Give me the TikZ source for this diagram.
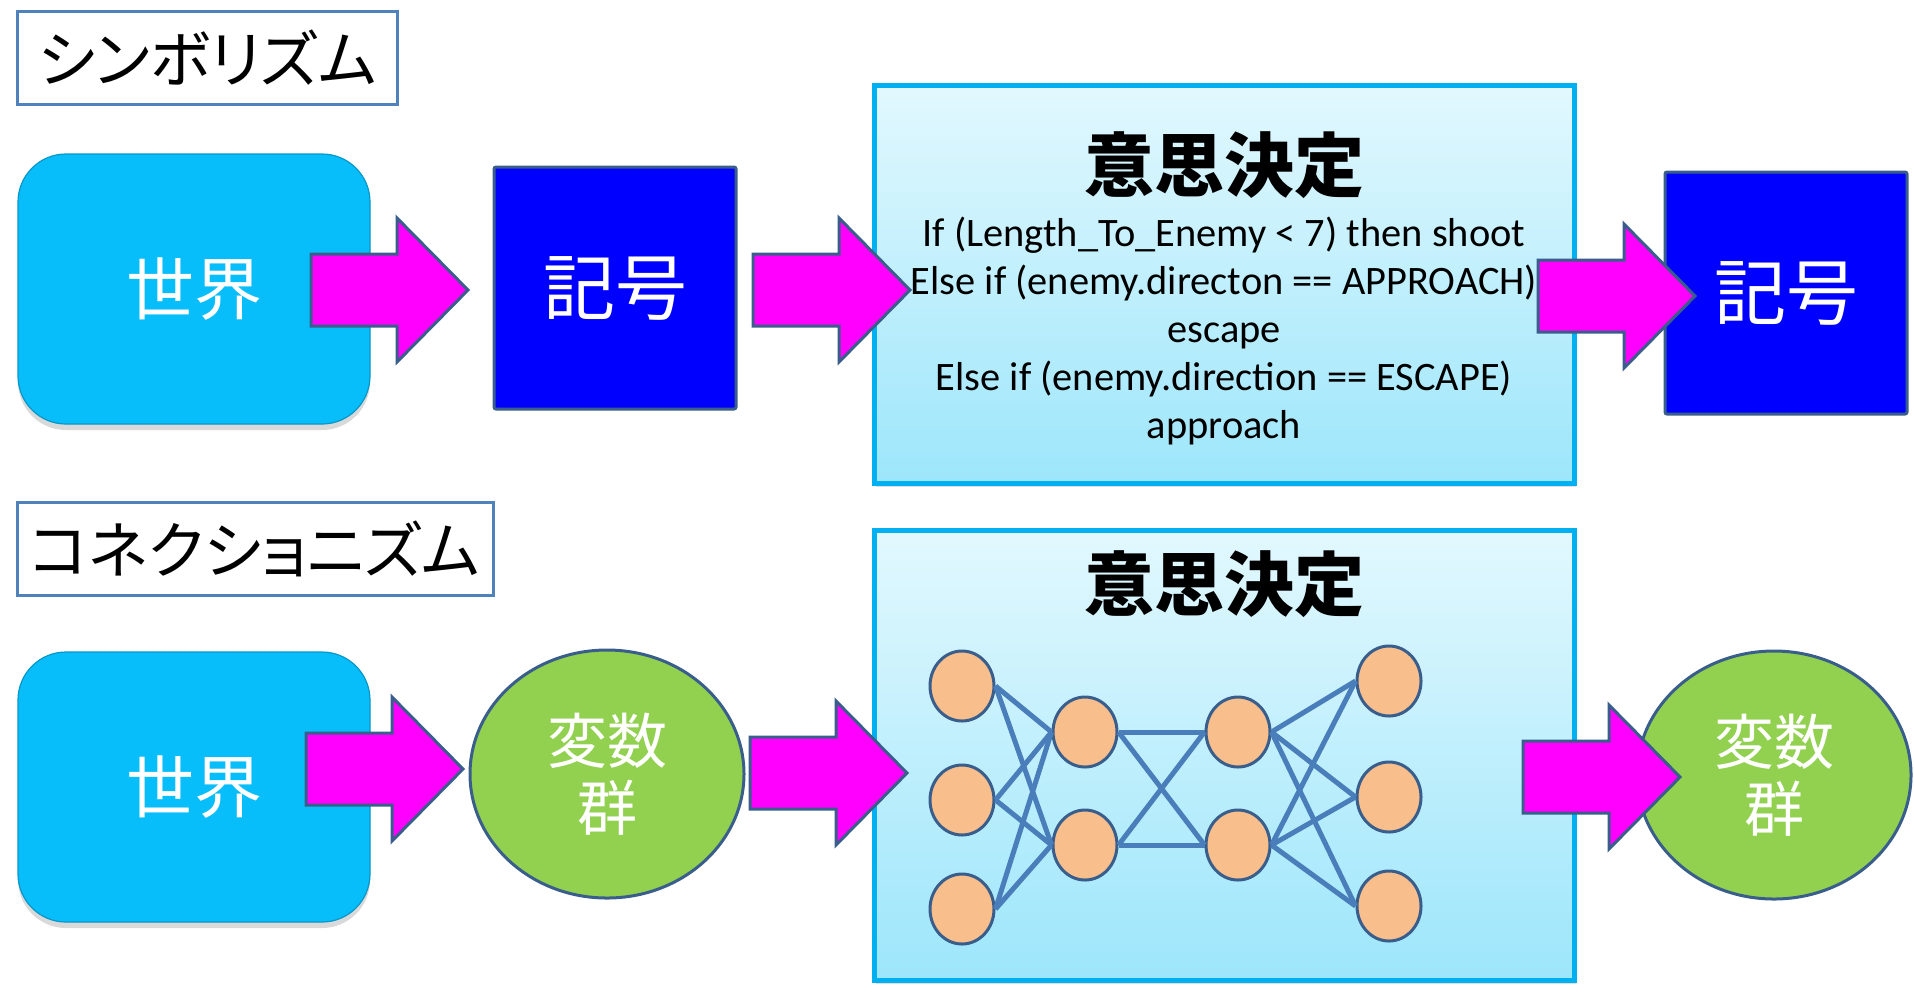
\documentclass[tikz,border=0pt]{standalone}
\usepackage{fontspec}
\setmainfont{Carlito}
\newfontfamily\jpfont{Noto Sans CJK JP}
\newfontfamily\jptitle{Noto Sans CJK JP}[RawFeature=+palt]
\usetikzlibrary{shapes.geometric,shadows}

\definecolor{worldcyan}{RGB}{7,189,250}
\definecolor{arrowmag}{RGB}{255,0,255}
\definecolor{edgeblue}{RGB}{58,94,140}
\definecolor{symblue}{RGB}{0,0,255}
\definecolor{decborder}{RGB}{0,176,240}
\definecolor{dectop}{RGB}{226,248,254}
\definecolor{decbot}{RGB}{157,230,251}
\definecolor{titleborder}{RGB}{79,129,189}
\definecolor{vargreen}{RGB}{146,208,80}
\definecolor{neuron}{RGB}{248,190,140}
\definecolor{synapse}{RGB}{74,126,187}

\tikzset{
    titlebox/.style={draw=titleborder, line width=1.5pt, fill=white, minimum height=46.5pt, inner sep=0pt,
        font=\jptitle\fontsize{31}{34}\selectfont},
    worldbox/.style={draw=worldcyan!80!black, line width=0.6pt, fill=worldcyan, rounded corners=24pt,
        minimum width=176pt, minimum height=135pt, text=white, font=\jpfont\fontsize{34}{40}\selectfont,
        drop shadow={shadow xshift=0pt, shadow yshift=-3pt, opacity=0.3}},
    symbox/.style={draw=edgeblue, line width=1.5pt, fill=symblue, rounded corners=1pt,
        minimum width=121pt, minimum height=121pt, text=white, font=\jpfont\fontsize{36}{40}\selectfont},
    decbox/.style={draw=decborder, line width=2.5pt, top color=dectop, bottom color=decbot,
        minimum width=350pt, drop shadow={shadow xshift=1pt, shadow yshift=-2pt, opacity=0.25}},
    dectitle/.style={font=\jpfont\bfseries\fontsize{35}{40}\selectfont},
    code/.style={align=center, font=\fontsize{20.2}{24}\selectfont},
    varblob/.style={ellipse, draw=edgeblue, line width=1.5pt, fill=vargreen, minimum width=137pt,
        minimum height=124pt, inner sep=0pt, align=center, text=white, font=\jpfont\fontsize{30}{33.5}\selectfont},
    unit/.style={ellipse, draw=edgeblue, line width=1.5pt, fill=neuron, minimum width=32pt, minimum height=35pt},
    link/.style={draw=synapse, line width=2.5pt},
    bigarrow/.style={draw=edgeblue, line width=1.5pt, fill=arrowmag, line join=miter}
}

\begin{document}
\begin{tikzpicture}[x=0.5pt, y=-0.5pt]
    \useasboundingbox (0,0) rectangle (1914,993);

    % symbolism
    \node[titlebox, minimum width=190pt] (symtitle) at (207,58) {シンボリズム};
    \node[worldbox] (world1) at (194,289) {世界};
    \node[symbox] (sym1) at (615,288) {記号};
    \node[decbox, minimum height=199pt] (dec1) at (1224,284) {};
    \node[dectitle] (dectitle1) at (1224,165) {意思決定};
    \node[code] (code1) at (1224,331) {If (Length\_To\_Enemy < 7) then shoot\\
        Else if (enemy.directon == APPROACH)\\escape\\
        Else if (enemy.direction == ESCAPE)\\approach};
    \node[symbox] (sym2) at (1786,293) {記号};

    % connectionism
    \node[titlebox, minimum width=238pt] (contitle) at (255,549) {コネクショニズム};
    \node[worldbox] (world2) at (194,787) {世界};
    \node[varblob] (var1) at (607,774) {変数\\群};
    \node[decbox, minimum height=225pt] (dec2) at (1224,755) {};
    \node[dectitle] (dectitle2) at (1224,584) {意思決定};
    \node[varblob] (var2) at (1774,775) {変数\\群};

    % network
    \node[unit] (i1) at (962,686) {};
    \node[unit] (i2) at (962,800) {};
    \node[unit] (i3) at (962,909) {};
    \node[unit] (p1) at (1085,732) {};
    \node[unit] (p2) at (1085,845) {};
    \node[unit] (q1) at (1238,732) {};
    \node[unit] (q2) at (1238,845) {};
    \node[unit] (o1) at (1389,681) {};
    \node[unit] (o2) at (1389,797) {};
    \node[unit] (o3) at (1389,906) {};

    \foreach \a in {1,2,3}
        \foreach \b in {1,2}
            \draw[link] (i\a.east) -- (p\b.west);
    \foreach \a in {1,2}
        \foreach \b in {1,2}
            \draw[link] (p\a.east) -- (q\b.west);
    \foreach \a in {1,2}
        \foreach \b in {1,2,3}
            \draw[link] (q\a.east) -- (o\b.west);

    % block arrows
    \foreach \ax/\ay in {311/290, 753/290, 1538/296, 306/769, 750/773, 1523/777}
        \draw[bigarrow] ({\ax},{\ay-36}) -- ++(86,0) -- ++(0,-36) -- ++(71,72)
            -- ++(-71,72) -- ++(0,-36) -- ++(-86,0) -- cycle;
\end{tikzpicture}
\end{document}
